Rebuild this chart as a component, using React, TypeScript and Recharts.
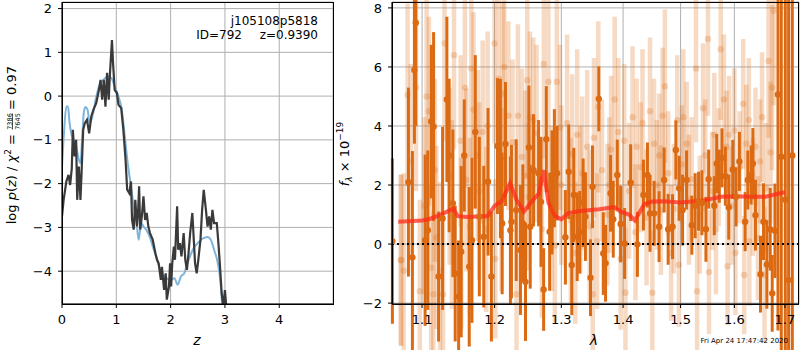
import React from "react";
import {
  LineChart,
  ComposedChart,
  Line,
  Scatter,
  ErrorBar,
  XAxis,
  YAxis,
  CartesianGrid,
  ReferenceLine,
} from "recharts";

// ---- left panel: log p(z) ----
const zBlack = [
  0, 0.03, 0.08, 0.12, 0.15, 0.18, 0.2, 0.23, 0.26, 0.28,
  0.31, 0.34, 0.36, 0.39, 0.42, 0.46, 0.5, 0.54, 0.58, 0.63,
  0.68, 0.71, 0.74, 0.77, 0.8, 0.83, 0.86, 0.88, 0.92, 0.94,
  0.97, 1.01, 1.04, 1.09, 1.13, 1.17, 1.2, 1.24, 1.27, 1.29,
  1.32, 1.35, 1.38, 1.4, 1.42, 1.44, 1.47, 1.5, 1.53, 1.56,
  1.59, 1.62, 1.67, 1.72, 1.75, 1.78, 1.82, 1.84, 1.88, 1.91,
  1.93, 1.97, 1.99, 2.01, 2.03, 2.06, 2.08, 2.12, 2.14, 2.17,
  2.2, 2.24, 2.27, 2.3, 2.33, 2.36, 2.4, 2.42, 2.45, 2.48,
  2.51, 2.55, 2.58, 2.61, 2.65, 2.68, 2.71, 2.74, 2.77, 2.8,
  2.85, 2.88, 2.91, 2.94, 2.97, 3.0, 3.03,
];
const pBlack = [
  -2.75, -2.37, -1.95, -1.8, -2.03, -1.65, -0.77, -1.38, -1.0, -2.37,
  -1.61, -2.37, -1.76, -0.77, -0.62, -0.54, -0.85, -0.46, -0.31, -0.16,
  0.14, 0.37, -0.08, 0.37, -0.24, 0.53, -0.08, 0.45, 1.28, 0.75,
  0.14, 0.07, -0.2, -0.27, -0.77, -1.45, -2.14, -2.22, -1.95, -2.83,
  -3.05, -2.37, -2.98, -2.67, -2.06, -3.05, -2.75, -2.29, -2.83, -2.67,
  -2.98, -3.13, -3.28, -3.59, -3.74, -3.82, -4.2, -3.9, -4.43, -4.05,
  -4.65, -4.35, -3.82, -4.35, -3.82, -3.44, -3.74, -2.52, -3.51, -3.36,
  -3.66, -3.13, -3.74, -3.97, -3.59, -3.13, -2.67, -3.13, -3.82, -4.05,
  -3.74, -3.28, -2.6, -2.14, -2.6, -2.98, -2.75, -3.05, -2.6, -2.9,
  -2.9, -3.36, -3.9, -4.5, -4.8, -4.43, -4.9,
];
const zBlue = [
  0, 0.04, 0.08, 0.11, 0.14, 0.17, 0.2, 0.25, 0.31, 0.34,
  0.37, 0.4, 0.43, 0.47, 0.51, 0.56, 0.62, 0.68, 0.76, 0.85,
  0.91, 0.97, 1.04, 1.1, 1.15, 1.21, 1.27, 1.32, 1.37, 1.41,
  1.43, 1.46, 1.5, 1.55, 1.61, 1.67, 1.73, 1.79, 1.86, 1.92,
  2.01, 2.07, 2.13, 2.19, 2.25, 2.31, 2.38, 2.44, 2.5, 2.56,
  2.62, 2.68, 2.74, 2.8, 2.87, 2.92, 2.95,
];
const pBlue = [
  -1.61, -0.77, -0.24, -0.24, -0.62, -0.85, -0.96, -1.07, -1.45, -1.53,
  -1.0, -0.39, -0.25, -0.31, -0.62, -0.46, -0.08, 0.22, 0.37, 0.45,
  0.41, 0.22, -0.01, -0.31, -0.85, -1.53, -2.06, -2.52, -2.83, -3.28,
  -3.13, -2.9, -2.98, -3.05, -3.2, -3.43, -3.66, -3.9, -4.08, -4.16,
  -4.2, -4.16, -4.31, -4.12, -4.05, -3.82, -3.59, -3.44, -3.36, -3.28,
  -3.24, -3.22, -3.28, -3.51, -3.82, -4.27, -4.8,
];
const zTicks = [0, 1, 2, 3, 4];
const pTicks = [-4, -3, -2, -1, 0, 1, 2];

// ---- right panel: spectrum ----
const darkLam = [
  1.0615, 1.0821, 1.0873, 1.0899, 1.0917, 1.104, 1.1076, 1.1121, 1.1153, 1.122,
  1.1274, 1.1332, 1.1363, 1.1414, 1.1446, 1.1493, 1.1529, 1.1571, 1.164, 1.1678,
  1.1725, 1.1782, 1.1845, 1.1906, 1.1954, 1.2041, 1.2084, 1.2109, 1.2158, 1.223,
  1.2245, 1.2315, 1.2378, 1.2414, 1.2453, 1.2504,
  1.2524, 1.2574, 1.265, 1.2687, 1.2727, 1.2768, 1.2819, 1.2856, 1.2892, 1.2934,
  1.3064, 1.3116, 1.3164, 1.3196, 1.325, 1.3291, 1.3345, 1.3382, 1.3463, 1.3496,
  1.3598, 1.3671, 1.3709, 1.3791, 1.3836, 1.3903, 1.3959, 1.4026, 1.4128, 1.4243,
  1.4346, 1.4415, 1.446, 1.4531, 1.4618, 1.4707, 1.4778,
  1.4856, 1.4915, 1.4974, 1.5036, 1.5108, 1.5204, 1.5265, 1.5327, 1.5389, 1.5463,
  1.5514, 1.5619, 1.5664, 1.5713, 1.5764, 1.5828, 1.5892, 1.5969, 1.6033, 1.6097,
  1.6208, 1.626, 1.6325, 1.6359, 1.641, 1.6509, 1.6569, 1.6637, 1.6703, 1.6743,
  1.6798, 1.6859, 1.6926, 1.7008, 1.7076, 1.7152,
];
const darkFlux = [
  0.1, 2.1, -0.45, 5.9, 7.5, 0.13, 0.47, 4.15, 3.98, -1.1,
  0.87, 4.9, 3.0, 1.38, -1.0, -1.78, -0.26, 3.0, -0.77, 0.13,
  3.8, 0.93, 0.25, 2.11, -1.1, 3.32, 2.9, 0.7, 3.39, 0.47,
  0.76, 1.15, -0.2, 0.7, -1.28, 3.27,
  0.59, 2.5, 2.4, 1.43, -1.54, 3.55, 0.42, 1.75, 2.57, 2.4,
  0.23, 2.45, -0.71, 1.66, 0.25, 0.4, 1.4, 0.93, -1.14, 1.94,
  4.92, -0.32, -0.65, 1.72, 0.84, 2.34, 0.68, 0.02, 2.08, -0.01,
  1.66, 2.34, 1.04, 1.04, 0.59, 2.17, 0.5,
  0.59, 3.19, 1.89, 1.15, 2.17, 0.64, 1.3, 1.45, 1.4, 0.5,
  2.2, 1.3, 2.73, 2.3, 2.92, 2.3, 1.25, 2.53, 1.6, 2.8,
  0.76, 2.17, 2.34, 2.73, 0.98, -1.02, 0.76, -0.69, 0.5, -1.67,
  0.45, 5.07, 2.96, 1.5, -1.22, 3.0,
];
const darkErr = [
  2.8, 3.2, 3.6, 2.5, 3.5, 2.9, 2.7, 2.6, 3.2, 2.2,
  3.1, 2.8, 2.6, 2.5, 2.3, 1.9, 2.9, 1.9, 2.7, 2.8,
  2.6, 2.7, 2.4, 2.5, 2.2, 2.3, 2.7, 2.4, 2.1, 2.5,
  2.6, 2.4, 2.2, 2.0, 2.0, 2.1,
  2.1, 1.9, 1.8, 2.2, 1.4, 1.8, 2.0, 2.1, 2.0, 1.6,
  1.6, 1.6, 1.7, 1.6, 1.5, 1.4, 1.5, 1.5, 1.3, 1.4,
  1.1, 1.4, 1.3, 1.3, 1.3, 1.2, 1.3, 1.2, 1.3, 1.1,
  1.2, 1.1, 1.3, 1.1, 1.2, 1.1, 1.2,
  1.1, 1.0, 1.1, 1.2, 1.0, 1.0, 1.1, 1.0, 1.1, 1.1,
  1.0, 1.0, 1.0, 0.9, 1.0, 1.0, 1.1, 1.0, 1.0, 1.0,
  1.0, 1.0, 1.0, 1.2, 1.2, 1.3, 1.3, 1.5, 1.4, 1.3,
  1.6, 8, 8, 10, 10, 10,
];

const lightHighLam = [
  1.072, 1.076, 1.081, 1.092, 1.103, 1.106, 1.109, 1.112, 1.119, 1.13,
  1.137, 1.143, 1.152, 1.158, 1.16, 1.167, 1.17, 1.176, 1.183, 1.19,
  1.2, 1.206, 1.212, 1.214, 1.22, 1.226, 1.234, 1.24, 1.248, 1.252,
  1.257, 1.262, 1.273, 1.28, 1.293, 1.298, 1.309, 1.317, 1.325, 1.333,
  1.341, 1.352, 1.359, 1.377, 1.386, 1.392, 1.402, 1.416, 1.423, 1.433,
  1.446, 1.453, 1.462, 1.468, 1.472, 1.494, 1.505, 1.511, 1.528, 1.541,
  1.55, 1.562, 1.574, 1.58, 1.59, 1.6, 1.617, 1.628, 1.641, 1.654,
  1.667, 1.674, 1.677,
];
const lightHighFlux = [
  -0.54, -0.9, 5.05, 5.3, 1.3, 5.0, 4.5, -0.8, 0.22, 6.8,
  2.3, 6.4, 3.5, 5.3, 2.17, 5.95, 4.55, 3.0, 3.8, 4.0,
  6.8, 5.6, 5.1, 6.0, 4.35, 3.45, 4.35, 2.95, 5.55, 4.3,
  4.2, 3.75, 6.1, 5.5, 5.5, 3.95, 4.1, 3.05, 3.7, 2.4,
  3.3, 3.6, 4.65, 2.0, 4.9, 3.8, 3.5, 4.3, 3.3, 4.1,
  4.5, 3.4, 3.0, 4.35, 5.35, 4.2, 4.3, 3.4, 5.95, 4.6,
  6.95, 3.7, 6.6, 4.9, 3.7, 3.85, 4.75, 4.2, 3.3, 4.3,
  6.2, 5.3, 7.9,
];
const lightHighErr = [
  2.9, 3.3, 3.1, 3.5, 3.0, 3.4, 3.2, 2.8, 3.1, 3.3,
  3.0, 3.2, 2.9, 3.4, 3.1, 3.0, 3.3, 2.9, 3.1, 3.2,
  3.4, 3.0, 3.1, 2.9, 3.2, 2.8, 3.1, 3.0, 3.3, 2.9,
  2.8, 3.0, 3.2, 3.1, 3.3, 2.8, 3.0, 2.7, 2.9, 2.6,
  2.6, 2.7, 2.9, 2.3, 2.8, 2.5, 2.6, 2.4, 2.3, 2.5,
  2.5, 2.2, 2.1, 2.3, 2.6, 2.2, 2.3, 2.1, 2.5, 2.2,
  2.6, 2.1, 2.4, 2.2, 2.0, 2.1, 2.2, 2.1, 2.0, 2.2,
  2.6, 2.8, 3.2,
];
const lightLowLam = [
  1.073, 1.097, 1.115, 1.124, 1.128, 1.153, 1.165, 1.188, 1.201, 1.232,
  1.25, 1.29, 1.322, 1.35, 1.357, 1.374, 1.396, 1.404, 1.421, 1.45,
  1.465, 1.483, 1.497, 1.515, 1.53, 1.552, 1.565, 1.587, 1.602, 1.619,
  1.629, 1.646, 1.659,
];
const lightLowFlux = [
  -0.55, -1.6, -1.7, -0.9, -1.7, 0.03, 0.6, 0.5, -0.5, -1.7,
  1.6, -0.05, -0.3, -1.7, 0.1, 1.0, -0.5, -1.65, 0.4, -1.65,
  1.15, -0.3, -0.7, 1.5, -1.6, -0.95, 0.5, -0.75, -0.3, -1.05,
  0.1, 0.2, -1.05,
];
const lightLowErr = [
  2.9, 3.1, 2.8, 3.0, 2.7, 2.9, 3.0, 2.8, 2.7, 2.9,
  2.5, 2.6, 2.4, 2.5, 2.3, 2.4, 2.4, 2.2, 2.3, 2.1,
  2.2, 2.3, 2.1, 2.2, 2.0, 2.1, 2.2, 2.0, 2.1, 2.0,
  2.2, 2.1, 2.3,
];
const lightMidLam = [
  1.085, 1.117, 1.14, 1.178, 1.21, 1.245, 1.27, 1.285, 1.3, 1.315,
  1.33, 1.345, 1.365, 1.38, 1.41, 1.43, 1.44, 1.458, 1.478, 1.488,
  1.502, 1.52, 1.535, 1.545, 1.558, 1.57, 1.585, 1.595, 1.61, 1.623,
  1.636, 1.65, 1.662, 1.671,
];
const lightMidFlux = [
  2.8, 2.5, 1.0, 1.8, 1.5, 2.3, 0.5, 1.2, 2.0, 0.8,
  1.5, 0.6, 2.5, 3.2, 1.8, 2.6, 0.9, 2.0, 2.4, 1.2,
  2.7, 2.2, 1.0, 3.0, 1.8, 2.6, 3.3, 1.3, 2.6, 3.4,
  1.6, 2.8, 1.9, 3.1,
];
const lightMidErr = [
  3.3, 3.1, 3.2, 3.0, 3.1, 2.9, 3.0, 2.8, 2.7, 2.8,
  2.5, 2.6, 2.4, 2.5, 2.3, 2.2, 2.3, 2.2, 2.1, 2.2,
  2.0, 2.1, 2.0, 1.9, 2.0, 2.0, 1.9, 2.0, 1.9, 2.0,
  2.0, 2.1, 2.2, 2.4,
];

const modelLam = [
  1.069, 1.1, 1.11, 1.125, 1.142, 1.148, 1.16, 1.19, 1.2, 1.21,
  1.2225, 1.232, 1.243, 1.255, 1.265, 1.273, 1.28, 1.29, 1.3, 1.311,
  1.33, 1.36, 1.385, 1.396, 1.41, 1.42, 1.436, 1.45, 1.47, 1.5,
  1.543, 1.575, 1.6, 1.632, 1.66, 1.68, 1.7,
];
const modelFlux = [
  0.76, 0.8, 0.85, 1.0, 1.2, 0.95, 0.92, 0.95, 1.3, 1.45,
  2.06, 1.5, 1.1, 1.45, 1.7, 2.5, 1.4, 0.95, 0.84, 1.05,
  1.12, 1.18, 1.25, 1.1, 1.0, 0.8, 1.35, 1.44, 1.45, 1.41,
  1.48, 1.6, 1.62, 1.6, 1.6, 1.68, 1.76,
];
const lamTicks = [1.1, 1.2, 1.3, 1.4, 1.5, 1.6, 1.7];
const fluxTicks = [-2, 0, 2, 4, 6, 8];

const FONT = "'DejaVu Sans', sans-serif";
const ORANGE = "#dc6a12";

const blackData = zBlack.map((z, i) => ({ z, p: pBlack[i] }));
const blueData = zBlue.map((z, i) => ({ z, p: pBlue[i] }));

function points(lam: number[], flux: number[], err: number[]) {
  return lam.map((l, i) => ({ lam: l, flux: flux[i], err: err[i] }));
}
const darkData = points(darkLam, darkFlux, darkErr);
const lightData = [
  ...points(lightHighLam, lightHighFlux, lightHighErr),
  ...points(lightLowLam, lightLowFlux, lightLowErr),
  ...points(lightMidLam, lightMidFlux, lightMidErr),
];
const modelData = modelLam.map((l, i) => ({ lam: l, flux: modelFlux[i] }));

const minus = (v: number) => (v < 0 ? "\u2212" + Math.abs(v) : String(v));
const tickStyle = { fontSize: 13, fill: "#000", fontFamily: FONT };

const lightDot = (p: any) => (
  <circle cx={p.cx} cy={p.cy} r={3.2} fill={ORANGE} fillOpacity={0.25} />
);
const darkDot = (p: any) => <circle cx={p.cx} cy={p.cy} r={3.2} fill={ORANGE} />;

export default function App() {
  return (
    <div style={{ position: "absolute", left: 0, top: 0, width: 800, height: 350, background: "#fff" }}>
      <div style={{ position: "absolute", left: 0, top: 0 }}>
        <LineChart width={340} height={350} margin={{ top: 2, right: 7, left: 0, bottom: 0 }}>
          <CartesianGrid stroke="#b0b0b0" strokeWidth={1} />
          <XAxis
            type="number"
            dataKey="z"
            domain={[0, 4.99]}
            ticks={zTicks}
            allowDataOverflow
            height={46}
            tick={tickStyle}
            tickSize={4}
            tickMargin={7}
            axisLine={{ stroke: "#000" }}
            tickLine={{ stroke: "#000" }}
          />
          <YAxis
            type="number"
            dataKey="p"
            domain={[-4.75, 2.15]}
            ticks={pTicks}
            allowDataOverflow
            width={62}
            tick={tickStyle}
            tickFormatter={minus}
            tickSize={4}
            tickMargin={6}
            axisLine={{ stroke: "#000" }}
            tickLine={{ stroke: "#000" }}
          />
          <Line data={blueData} dataKey="p" type="monotone" stroke="#7eb3da" strokeWidth={2} dot={false} isAnimationActive={false} />
          <Line data={blackData} dataKey="p" type="linear" stroke="#3a3a3a" strokeWidth={2.2} dot={false} isAnimationActive={false} />
        </LineChart>
      </div>

      <div style={{ position: "absolute", left: 340, top: 0 }}>
        <ComposedChart width={460} height={350} margin={{ top: 2, right: 1, left: 0, bottom: 0 }}>
          <CartesianGrid stroke="#b0b0b0" strokeWidth={1} />
          <XAxis
            type="number"
            dataKey="lam"
            scale="log"
            domain={[1.061, 1.729]}
            ticks={lamTicks}
            allowDataOverflow
            height={46}
            tick={tickStyle}
            tickFormatter={(v: number) => v.toFixed(1)}
            tickSize={4}
            tickMargin={7}
            axisLine={{ stroke: "#000" }}
            tickLine={{ stroke: "#000" }}
          />
          <YAxis
            type="number"
            dataKey="flux"
            domain={[-2.03, 8.2]}
            ticks={fluxTicks}
            allowDataOverflow
            width={52}
            tick={tickStyle}
            tickFormatter={minus}
            tickSize={4}
            tickMargin={6}
            axisLine={{ stroke: "#000" }}
            tickLine={{ stroke: "#000" }}
          />
          <Scatter data={lightData} dataKey="flux" shape={lightDot} isAnimationActive={false}>
            <ErrorBar dataKey="err" direction="y" width={0} strokeWidth={4.5} stroke={ORANGE} strokeOpacity={0.25} />
          </Scatter>
          <Scatter data={darkData} dataKey="flux" shape={darkDot} isAnimationActive={false}>
            <ErrorBar dataKey="err" direction="y" width={0} strokeWidth={3} stroke={ORANGE} />
          </Scatter>
          <Line data={modelData} dataKey="flux" type="linear" stroke="#ff2a1a" strokeOpacity={0.75} strokeWidth={4} dot={false} isAnimationActive={false} />
          <ReferenceLine y={0} stroke="#000" strokeWidth={2} strokeDasharray="2 3" />
        </ComposedChart>
      </div>

      <svg width={800} height={350} style={{ position: "absolute", left: 0, top: 0, pointerEvents: "none" }} fontFamily={FONT}>
        <rect x={62.5} y={2.5} width={271} height={302} fill="none" stroke="#000" strokeWidth={1} />
        <rect x={392.5} y={2.5} width={406} height={302} fill="none" stroke="#000" strokeWidth={1} />

        <text x={318} y={25} textAnchor="end" fontSize={12}>j105108p5818</text>
        <text x={242} y={39} textAnchor="end" fontSize={12}>ID=792</text>
        <text x={318} y={39} textAnchor="end" fontSize={12}>z=0.9390</text>

        <g transform="translate(16,154) rotate(-90)">
          <text x={20} y={0} textAnchor="end" fontSize={13}>
            log <tspan fontStyle="italic">p</tspan>(<tspan fontStyle="italic">z</tspan>) / <tspan fontStyle="italic">χ</tspan>
            <tspan dy={-5} fontSize={9}>2</tspan>
            <tspan dy={5}> =</tspan>
          </text>
          <text x={32.5} y={-4.5} textAnchor="middle" fontSize={6.5}>7386</text>
          <line x1={24.5} x2={40.5} y1={-3.5} y2={-3.5} stroke="#000" strokeWidth={0.7} />
          <text x={32.5} y={3.5} textAnchor="middle" fontSize={6.5}>7645</text>
          <text x={44} y={0} fontSize={13}>= 0.97</text>
        </g>

        <g transform="translate(349,154) rotate(-90)">
          <text x={0} y={0} textAnchor="middle" fontSize={13}>
            <tspan fontStyle="italic">f</tspan>
            <tspan dy={3} fontSize={9} fontStyle="italic">λ</tspan>
            <tspan dy={-3}> × 10</tspan>
            <tspan dy={-6} fontSize={9}>−19</tspan>
          </text>
        </g>

        <text x={197} y={345} textAnchor="middle" fontSize={14} fontStyle="italic">z</text>
        <text x={594} y={345} textAnchor="middle" fontSize={14} fontStyle="italic">λ</text>
        <text x={788} y={343} textAnchor="end" fontSize={7}>Fri Apr 24 17:47:42 2020</text>
      </svg>
    </div>
  );
}
